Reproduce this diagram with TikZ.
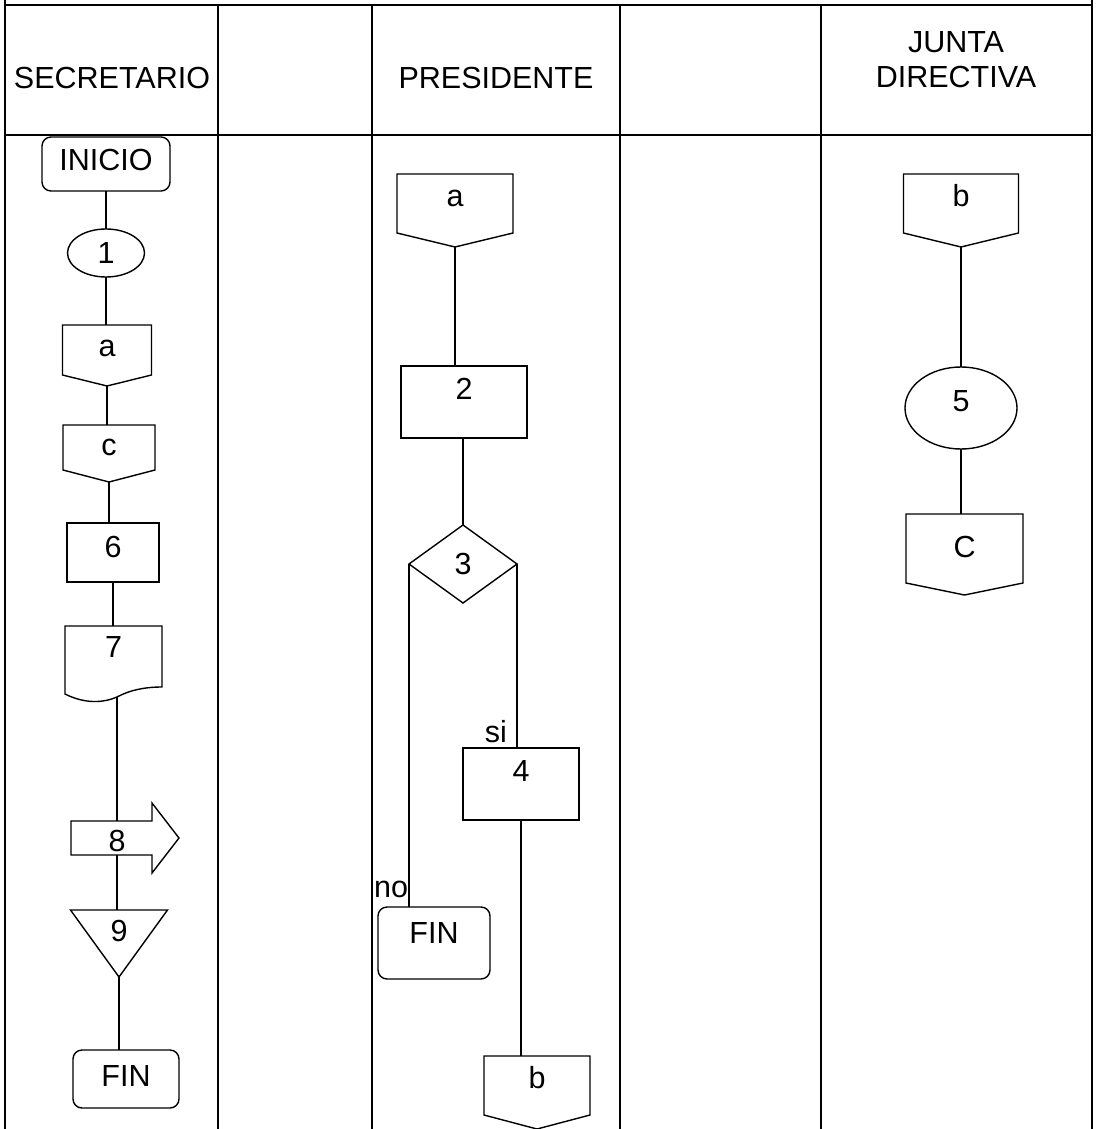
\documentclass[tikz,border=0pt]{standalone}
\usepackage{fontspec}
\setmainfont{Liberation Sans}
\usetikzlibrary{shapes.geometric}
\newcommand\drawoffpage[2]{\draw[shp] (#1.north west) -- (#1.north east) -- ([yshift=#2]#1.south east) -- (#1.south) -- ([yshift=#2]#1.south west) -- cycle;}
\begin{document}
\begin{tikzpicture}[x=1pt,y=-1pt,
  every node/.style={font=\fontsize{30.5}{34}\selectfont, inner sep=0pt, outer sep=0pt},
  frame/.style={line width=2.2pt},
  shp/.style={draw, line width=1.4pt},
  conn/.style={line width=1.4pt},
  procbox/.style={shp, rectangle},
  termbox/.style={shp, rectangle, rounded corners=9pt},
  holder/.style={rectangle},
  lbl/.style={font=\fontsize{30.5}{34}\selectfont},
]
\useasboundingbox (0,0) rectangle (1101,1129);

% ---- table frame ----
\draw[frame] (5,0) -- (5,1129);
\draw[frame] (1092,0) -- (1092,1129);
\draw[frame] (5,5) -- (1092,5);
\draw[frame] (5,135) -- (1092,135);
\foreach \xx in {218,372,620,821} \draw[frame] (\xx,5) -- (\xx,1129);

% ---- headers ----
\node[anchor=base] (hsec) at (112,89) {SECRETARIO};
\node[anchor=base] (hpre) at (496,89) {PRESIDENTE};
\node[anchor=base] (hjun) at (956,53) {JUNTA};
\node[anchor=base] (hdir) at (956,88) {DIRECTIVA};

% ---- SECRETARIO lane ----
\node[termbox, minimum width=128pt, text height=33pt, text depth=21pt, anchor=north] (ini) at (106,137) {INICIO};
\node[shp, ellipse, minimum width=77pt, minimum height=48pt] (e1) at (106,253) {1};
\node[holder, minimum width=89pt, text height=31pt, text depth=30pt, anchor=north] (sa) at (107,325) {a};
\drawoffpage{sa}{11pt}
\node[holder, minimum width=92pt, text height=30pt, text depth=27pt, anchor=north] (sc) at (109,425) {c};
\drawoffpage{sc}{12pt}
\node[procbox, minimum width=92pt, text height=34pt, text depth=25pt, anchor=north] (b6) at (113,523) {6};
\node[holder, minimum width=97pt, text height=31pt, text depth=40pt, anchor=north] (d7) at (113.5,626) {7};
\draw[shp] (d7.north west) -- (d7.north east) -- ([yshift=10pt]d7.south east)
  .. controls ([xshift=-17pt,yshift=10pt]d7.south east) and ([xshift=-32pt,yshift=7pt]d7.south east) .. ([xshift=-45pt]d7.south east)
  .. controls ([xshift=-59pt,yshift=-6pt]d7.south east) and ([xshift=-77pt,yshift=-7pt]d7.south east) .. ([yshift=3pt]d7.south west)
  -- cycle;
\node[holder, minimum width=92pt, text height=30pt, text depth=4pt, anchor=north] (n8) at (117,821) {8};
\draw[shp] (n8.north west) -- ([xshift=-11pt]n8.north east) -- ([xshift=-11pt,yshift=18pt]n8.north east)
  -- ([xshift=16pt]n8.east) -- ([xshift=-11pt,yshift=-18pt]n8.south east) -- ([xshift=-11pt]n8.south east)
  -- (n8.south west) -- cycle;
\node[holder, minimum width=97pt, text height=31pt, text depth=36pt, anchor=north] (t9) at (119,910) {9};
\draw[shp] (t9.north west) -- (t9.north east) -- (t9.south) -- cycle;
\node[termbox, minimum width=106pt, text height=36pt, text depth=22pt, anchor=north] (fin1) at (126,1050) {FIN};

\draw[conn] (ini) -- (e1);
\draw[conn] (e1.south) -- (e1.south |- sa.north);
\draw[conn] (sa.south) -- (sa.south |- sc.north);
\draw[conn] (sc.south) -- (sc.south |- b6.north);
\draw[conn] (b6.south) -- (b6.south |- d7.north);
\draw[conn] (d7.south -| n8.north) -- (n8.north);
\draw[conn] (n8.south) -- (n8.south |- t9.north);
\draw[conn] (t9.south) -- (t9.south |- fin1.north);

% ---- PRESIDENTE lane ----
\node[holder, minimum width=116pt, text height=32pt, text depth=41pt, anchor=north] (pa) at (455,174) {a};
\drawoffpage{pa}{14pt}
\node[procbox, minimum width=126pt, text height=33pt, text depth=39pt, anchor=north] (b2) at (464,366) {2};
\node[shp, diamond, minimum width=108pt, minimum height=78pt] (d3) at (463,564) {3};
\node[procbox, minimum width=116pt, text height=33pt, text depth=39pt, anchor=north] (b4) at (521,748) {4};
\node[termbox, minimum width=112pt, text height=36pt, text depth=36pt, anchor=north] (fin2) at (434,907) {FIN};
\node[holder, minimum width=106pt, text height=32pt, text depth=41pt, anchor=north] (pb) at (537,1056) {b};
\drawoffpage{pb}{14pt}

\draw[conn] (pa.south) -- (pa.south |- b2.north);
\draw[conn] (d3.north |- b2.south) -- (d3.north);
\draw[conn] (d3.east) -- (d3.east |- b4.north) node[lbl, anchor=base east, xshift=-10pt, yshift=6pt] {si};
\draw[conn] (d3.west) -- (d3.west |- fin2.north) node[lbl, anchor=base east, xshift=-1pt, yshift=10pt] {no};
\draw[conn] (b4.south) -- (b4.south |- pb.north);

% ---- JUNTA DIRECTIVA lane ----
\node[holder, minimum width=115pt, text height=32pt, text depth=41pt, anchor=north] (jb) at (961,174) {b};
\drawoffpage{jb}{14pt}
\node[shp, ellipse, minimum width=112pt, minimum height=82pt, text height=22pt, text depth=14.5pt] (e5) at (961,408) {5};
\node[holder, minimum width=117pt, text height=43pt, text depth=38pt, anchor=north] (jc) at (964.5,514) {C};
\drawoffpage{jc}{12pt}

\draw[conn] (jb.south) -- (jb.south |- e5.north);
\draw[conn] (e5.south) -- (e5.south |- jc.north);
\end{tikzpicture}
\end{document}
